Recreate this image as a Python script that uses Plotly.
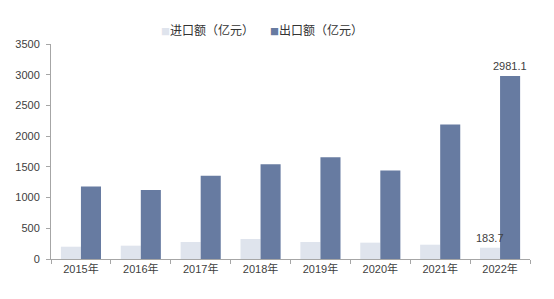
import plotly.graph_objects as go

years = ["2015年", "2016年", "2017年", "2018年", "2019年", "2020年", "2021年", "2022年"]
imports = [200, 217, 277, 326, 277, 266, 233, 183.7]
exports = [1180, 1122, 1357, 1543, 1658, 1440, 2188, 2981.1]
labelled_year = "2022年"
series_names = ["进口额（亿元）", "出口额（亿元）"]
series_colors = ["#dfe4ed", "#677ba1"]

font_family = "Liberation Sans, Arial, Noto Sans CJK SC, sans-serif"

fig = go.Figure()
for name, vals, color in zip(series_names, [imports, exports], series_colors):
    fig.add_trace(go.Bar(
        x=years, y=vals, name=name,
        marker=dict(color=color, line=dict(width=0)),
    ))

# value labels for the last year, centred over each bar of the group
idx = years.index(labelled_year)
for vals, shift in zip([imports, exports], [-10, 10]):
    fig.add_annotation(
        x=labelled_year, y=vals[idx], xshift=shift, yshift=2,
        xanchor="center", yanchor="bottom", showarrow=False,
        text=f"{vals[idx]:.1f}",
        font=dict(size=11, color="#404040", family=font_family),
    )

# compact legend drawn as text above the plot
legend_x = [0.225, 0.452]
for name, color, lx in zip(series_names, series_colors, legend_x):
    fig.add_annotation(
        xref="paper", yref="paper", x=lx, y=1.068, xanchor="left", yanchor="middle",
        showarrow=False,
        text=f"<span style='color:{color};font-size:9px'>■</span>{name}",
        font=dict(size=12, color="#333333", family="Noto Sans CJK SC, sans-serif"),
    )

fig.update_layout(
    width=554, height=299,
    margin=dict(l=51, r=24, t=44, b=40),
    paper_bgcolor="white", plot_bgcolor="white",
    barmode="group", bargap=0.33, bargroupgap=0,
    font=dict(family=font_family, size=11, color="#404040"),
    showlegend=False,
    xaxis=dict(
        type="category", showgrid=False, showline=True, linecolor="#a6a6a6",
        linewidth=1, ticks="outside", tickson="boundaries", ticklen=4,
        tickcolor="#a6a6a6", tickfont=dict(size=11, color="#404040"),
    ),
    yaxis=dict(
        range=[0, 3500], dtick=500, showgrid=False, showline=True,
        linecolor="#a6a6a6", linewidth=1, ticks="outside", ticklen=4,
        tickcolor="#a6a6a6", tickfont=dict(size=11, color="#404040"),
        zeroline=False, ticklabelstandoff=4,
    ),
)

fig.write_html("out.html")
